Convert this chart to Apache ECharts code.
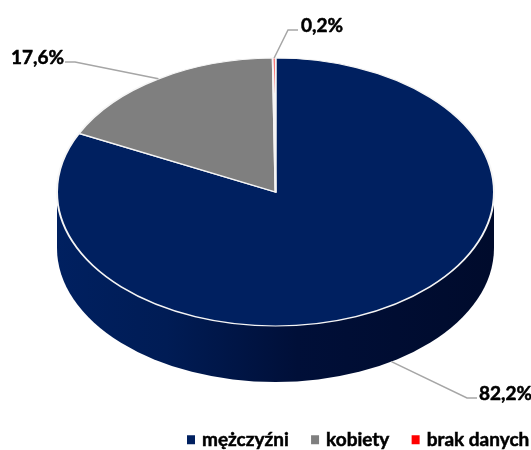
<!DOCTYPE html>
<html>
<head>
<meta charset="utf-8">
<style>
  html, body { margin: 0; padding: 0; background: #fff; }
  #main { width: 531px; height: 450px; }
</style>
<script src="https://cdn.jsdelivr.net/npm/echarts@6/dist/echarts.min.js"></script>
</head>
<body>
<div id="main"></div>
<script>
var categories = ['mężczyźni', 'kobiety', 'brak danych'];
var values = [82.2, 17.6, 0.2];
var colors = ['#002060', '#7f7f7f', '#ff0000'];

// geometry of the tilted disc
var cx = 275.5, cy = 192, rx = 218.5, ry = 134, depth = 56;
var FONT = 'Lato, "Noto Sans", sans-serif';

// label placement, [knee x, knee y, end x, text x, text align]
var labelPos = [
  [467, 398, 477, 479, 'left'],
  [75, 62, 65, 64, 'right'],
  [288, 30, 298, 301, 'left']
];

var total = values.reduce(function (a, b) { return a + b; }, 0);
var myChart = echarts.init(document.getElementById('main'), null, { renderer: 'canvas' });

function angleAt(frac) {
  return -Math.PI / 2 + frac * Math.PI * 2;
}

function makeItem(idx) {
  var before = 0;
  for (var i = 0; i < idx; i++) before += values[i];
  return function (params, api) {
    var start = angleAt(before / total);
    var end = angleAt((before + api.value(0)) / total);
    var mid = (start + end) / 2;
    var children = [];

    // side wall, only the big slice reaches the front
    if (idx === 0) {
      children.push({
        type: 'path',
        shape: {
          pathData: 'M' + (cx - rx) + ' ' + cy + ' L' + (cx - rx) + ' ' + (cy + depth) +
            ' A' + rx + ' ' + ry + ' 0 0 0 ' + (cx + rx) + ' ' + (cy + depth) +
            ' L' + (cx + rx) + ' ' + cy + ' Z',
          x: cx - rx, y: cy, width: rx * 2, height: ry + depth
        },
        style: {
          fill: new echarts.graphic.LinearGradient(0, 0, 1, 0, [
            { offset: 0, color: '#002060' },
            { offset: 0.25, color: '#001c55' },
            { offset: 0.55, color: '#000f38' },
            { offset: 1, color: '#000b2c' }
          ])
        }
      });
    }

    children.push({
      type: 'sector',
      x: cx, y: cy, scaleY: ry / rx,
      shape: { cx: 0, cy: 0, r: rx, r0: 0, startAngle: start, endAngle: end, clockwise: true },
      style: { fill: colors[idx], stroke: '#f5f5f5', lineWidth: 2, strokeNoScale: true },
      z2: 2
    });

    // leader line starts on the rim at the middle of the slice
    var px = cx + rx * Math.cos(mid);
    var py = cy + ry * Math.sin(mid) + (Math.sin(mid) > 0 ? depth : 0);
    var lp = labelPos[idx];
    children.push({
      type: 'polyline',
      shape: { points: [[px, py], [lp[0], lp[1]], [lp[2], lp[1]]] },
      style: { fill: null, stroke: '#a6a6a6', lineWidth: 1.5 },
      z2: 3
    });
    children.push({
      type: 'text',
      style: {
        text: api.value(0).toFixed(1).replace('.', ',') + '%',
        x: lp[3], y: lp[1] - 4,
        align: lp[4], verticalAlign: 'middle',
        font: 'bold 19px ' + FONT, fill: '#000',
        stroke: '#000', lineWidth: 0.5
      },
      z2: 4
    });
    return { type: 'group', children: children };
  };
}

var series = categories.map(function (name, i) {
  return {
    name: name,
    type: 'custom',
    coordinateSystem: 'none',
    silent: true,
    animation: false,
    itemStyle: { color: colors[i] },
    data: [[values[i]]],
    renderItem: makeItem(i)
  };
});

var option = {
  backgroundColor: '#fff',
  animation: false,
  legend: {
    data: categories,
    left: 187,
    top: 430,
    padding: 0,
    icon: 'rect',
    itemWidth: 8,
    itemHeight: 9,
    itemGap: 22,
    textStyle: {
      fontFamily: FONT, fontWeight: 'bold', fontSize: 19, color: '#000',
      textBorderColor: '#000', textBorderWidth: 0.5, padding: [0, 0, 0, 2]
    },
    selectedMode: false
  },
  series: series
};
myChart.setOption(option);
</script>
</body>
</html>
